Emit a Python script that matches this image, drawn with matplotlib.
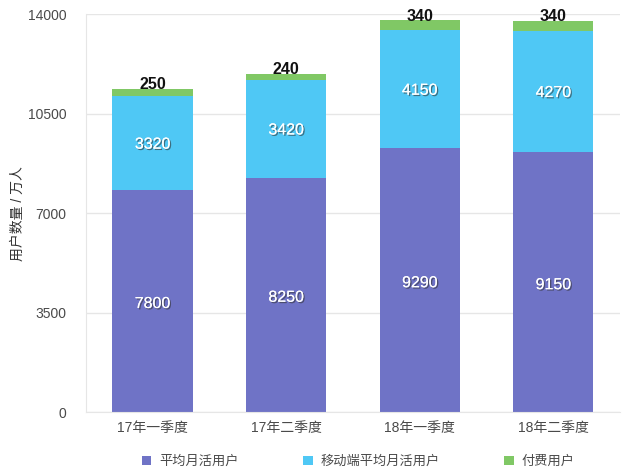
import matplotlib.pyplot as plt
import matplotlib.patheffects as pe
import numpy as np

plt.rcParams['font.family'] = ['Liberation Sans', 'Noto Sans CJK SC', 'DejaVu Sans']

# 데이터
quarters = ['17年一季度', '17年二季度', '18年一季度', '18年二季度']
mau = [7800, 8250, 9290, 9150]
mobile_mau = [3320, 3420, 4150, 4270]
paid = [250, 240, 340, 340]
series_names = ['平均月活用户', '移动端平均月活用户', '付费用户']
colors = ['#6f73c6', '#4fc8f5', '#80c865']
yticks = [0, 3500, 7000, 10500, 14000]

fig = plt.figure(figsize=(6.4, 4.7), dpi=100)
ax = fig.add_axes([0.134, 0.123, 0.835, 0.847])

x = np.arange(len(quarters))
w = 0.6
ax.bar(x, mau, w, color=colors[0], label=series_names[0], zorder=2)
bottom2 = np.array(mau)
ax.bar(x, mobile_mau, w, bottom=bottom2, color=colors[1], label=series_names[1], zorder=2)
bottom3 = bottom2 + np.array(mobile_mau)
ax.bar(x, paid, w, bottom=bottom3, color=colors[2], label=series_names[2], zorder=2)

shadow = [pe.withSimplePatchShadow(offset=(1, -1), shadow_rgbFace='#333333', alpha=0.6), pe.Normal()]
for i in range(len(quarters)):
    ax.text(x[i], mau[i] * 0.49, str(mau[i]), ha='center', va='center',
            color='white', fontsize=11.5, path_effects=shadow, zorder=3)
    ax.text(x[i], bottom2[i] + mobile_mau[i] * 0.49, str(mobile_mau[i]), ha='center', va='center',
            color='white', fontsize=11.5, path_effects=shadow, zorder=3)
    ax.annotate(str(paid[i]), (x[i], bottom3[i] + paid[i]), xytext=(0, 3), textcoords='offset points',
                ha='center', va='center', color='#111111', fontsize=11.5, fontweight='bold', zorder=3)

ax.set_xlim(-0.5, len(quarters) - 0.5)
ax.set_ylim(0, 14000)
ax.set_yticks(yticks)
ax.set_yticklabels([str(t) for t in yticks])
ax.set_xticks(x)
ax.set_xticklabels(quarters)
ax.tick_params(axis='both', length=0, labelsize=10, colors='#4a4a4a')
ax.tick_params(axis='y', pad=14)
ax.tick_params(axis='x', pad=6)
ax.grid(axis='y', color='#e6e6e6', linewidth=1, zorder=0)
for s in ['top', 'right']:
    ax.spines[s].set_visible(False)
for s in ['left', 'bottom']:
    ax.spines[s].set_color('#e6e6e6')
ax.set_ylabel('用户数量 / 万人', fontsize=10, color='#333333', labelpad=2)

ax.legend(loc='upper center', bbox_to_anchor=(0.51, -0.08), ncol=3, frameon=False,
          fontsize=9.5, handlelength=0.7, handleheight=0.7, handletextpad=0.6,
          columnspacing=4.9, labelcolor='#4a4a4a')

fig.savefig('out.png', dpi=100)
